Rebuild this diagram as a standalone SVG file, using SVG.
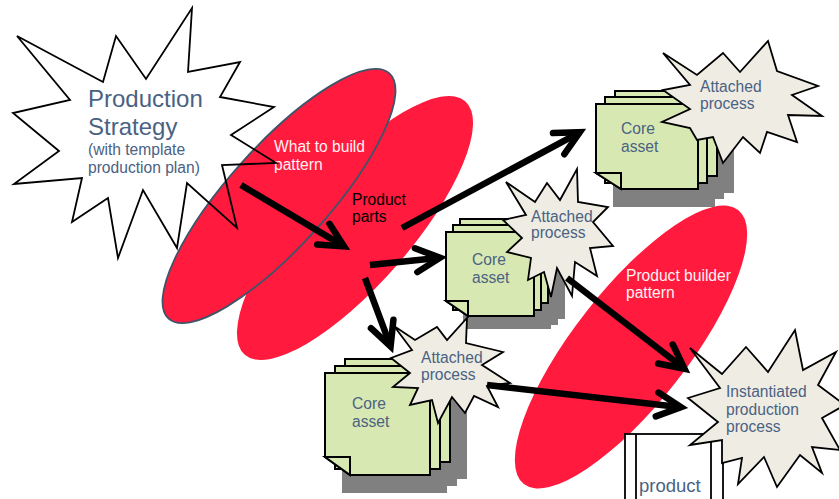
<svg xmlns="http://www.w3.org/2000/svg" width="839" height="499" viewBox="0 0 839 499">
  <style>
    .lbl { font-family: "Liberation Sans", Arial, sans-serif; font-size: 15.6px; fill: #4a6282; }
    .big { font-size: 24px; }
    .light { fill: #fff2f2; }
    .dark { fill: #000; }
    .pattern { fill: #ff1a3e; }
    .page { fill: #d8e8b3; stroke: #000; stroke-width: 2; stroke-linejoin: miter; }
    .shadow { fill: #808080; }
    .burst { fill: #efece4; stroke: #000; stroke-width: 1.8; stroke-linejoin: miter; }
    .arrow { fill: none; stroke: #000; stroke-width: 6.5; marker-end: url(#head); }
  </style>
  <defs>
    <marker id="head" markerUnits="userSpaceOnUse" orient="auto" markerWidth="50" markerHeight="50" viewBox="-30 -20 50 40" refX="0" refY="0" overflow="visible">
      <path d="M-24,-12 L0,0 L-24,12" fill="none" stroke="#000" stroke-width="6.5" stroke-linejoin="miter" stroke-linecap="round"/>
    </marker>
    <!-- one sheet with a folded bottom-left corner -->
    <symbol id="sheetL" overflow="visible">
      <path d="M0,0 H105 V102 H25 L0,86 Z"/>
    </symbol>
  </defs>

  <!-- pattern ellipses -->
  <g id="product-builder-pattern">
    <ellipse class="pattern" cx="631" cy="347" rx="174" ry="57" transform="rotate(-52 631 347)"/>
    <text class="lbl light" x="626" y="281">Product builder</text>
    <text class="lbl light" x="626" y="298">pattern</text>
  </g>
  <g id="product-parts">
    <ellipse class="pattern" cx="355" cy="228" rx="168" ry="56" transform="rotate(-49 355 228)"/>
  </g>
  <g id="what-to-build-pattern">
    <ellipse class="pattern" cx="279" cy="196" rx="165" ry="50" transform="rotate(-48 279 196)" stroke="#3f5468" stroke-width="1.8"/>
    <text class="lbl light" x="274" y="152">What to build</text>
    <text class="lbl light" x="274" y="170">pattern</text>
  </g>
  <g id="product-parts-label">
    <text class="lbl dark" x="352" y="205">Product</text>
    <text class="lbl dark" x="352" y="222">parts</text>
  </g>

  <!-- production strategy burst -->
  <g id="production-strategy">
    <polygon points="17,36 103,82 116,36 146,79 192,8 188,72 240,62 220,97 274,107 231,135 276,163 222,165 237,228 187,183 177,248 143,190 118,258 108,198 72,222 82,178 14,184 59,151 13,113 70,100" fill="none" stroke="#000" stroke-width="1.8" stroke-linejoin="miter"/>
    <text class="lbl big" x="88" y="107">Production</text>
    <text class="lbl big" x="88" y="135">Strategy</text>
    <text class="lbl" x="88" y="155">(with template</text>
    <text class="lbl" x="88" y="173">production plan)</text>
  </g>

  <!-- core asset stacks -->
  <g id="core-asset-1">
    <g class="shadow">
      <rect x="632" y="108" width="102" height="85"/>
      <rect x="622" y="114" width="102" height="85"/>
      <rect x="613" y="121" width="102" height="86"/>
    </g>
    <rect class="page" x="615" y="91" width="102" height="85"/>
    <rect class="page" x="605" y="97" width="102" height="86"/>
    <path class="page" d="M596,104 H698 V189 H621 L596,173 Z"/>
    <path class="page" d="M596,173 H621 V189 Z"/>
    <text class="lbl" x="621" y="134">Core</text>
    <text class="lbl" x="621" y="152">asset</text>
  </g>
  <g id="core-asset-2">
    <g class="shadow">
      <rect x="477" y="235" width="88" height="84"/>
      <rect x="470" y="241" width="88" height="84"/>
      <rect x="463" y="247" width="88" height="82"/>
    </g>
    <rect class="page" x="460" y="219" width="88" height="84"/>
    <rect class="page" x="453" y="225" width="88" height="85"/>
    <path class="page" d="M446,232 H534 V316 H468 L446,301 Z"/>
    <path class="page" d="M446,301 H468 V316 Z"/>
    <text class="lbl" x="472" y="265">Core</text>
    <text class="lbl" x="472" y="283">asset</text>
  </g>
  <g id="core-asset-3">
    <g class="shadow">
      <rect x="362" y="377" width="105" height="102"/>
      <rect x="352" y="384" width="105" height="102"/>
      <rect x="342" y="391" width="105" height="102"/>
    </g>
    <rect class="page" x="345" y="359" width="105" height="103"/>
    <rect class="page" x="335" y="366" width="105" height="103"/>
    <path class="page" d="M325,373 H430 V475 H350 L325,457 Z"/>
    <path class="page" d="M325,457 H350 V475 Z"/>
    <text class="lbl" x="352" y="409">Core</text>
    <text class="lbl" x="352" y="427">asset</text>
  </g>

  <!-- product -->
  <g id="product">
    <rect x="625" y="434" width="98" height="72" fill="#fff" stroke="#000" stroke-width="1.8"/>
    <line x1="636" y1="434" x2="636" y2="506" stroke="#000" stroke-width="1.8"/>
    <line x1="711" y1="434" x2="711" y2="506" stroke="#000" stroke-width="1.8"/>
    <text class="lbl" x="639" y="492" style="font-size:18.5px">product</text>
  </g>

  <!-- attached process bursts -->
  <g id="attached-process-1">
    <polygon class="burst" points="663,53 697,75 723,53 740,72 768,41 777,71 818,86 792,95 822,116 788,115 797,142 767,132 760,153 743,137 723,163 713,137 697,140 690,128 662,122 690,109 663,90 690,85"/>
    <text class="lbl" x="700" y="92">Attached</text>
    <text class="lbl" x="700" y="109">process</text>
  </g>
  <g id="attached-process-2">
    <polygon class="burst" points="506,182 535,202 547,183 560,200 577,169 578,202 608,207 593,222 613,246 590,248 597,276 575,262 572,296 557,268 551,297 544,272 528,280 531,258 507,252 522,238 503,220 526,215"/>
    <text class="lbl" x="531" y="222">Attached</text>
    <text class="lbl" x="531" y="238">process</text>
  </g>
  <g id="attached-process-3">
    <polygon class="burst" points="394,326 415,340 437,327 447,340 467,318 466,343 503,352 482,365 510,383 487,386 498,407 474,396 465,413 452,397 438,423 432,400 410,405 418,388 393,387 410,373 391,358 412,350"/>
    <text class="lbl" x="421" y="363">Attached</text>
    <text class="lbl" x="421" y="380">process</text>
  </g>
  <g id="instantiated-production-process">
    <polygon class="burst" points="690,348 722,374 746,347 768,372 795,330 803,370 836,352 818,385 845,405 822,418 840,450 812,447 822,473 800,455 777,487 764,457 738,484 742,458 722,463 722,440 690,445 718,422 688,398 720,388"/>
    <text class="lbl" x="726" y="397">Instantiated</text>
    <text class="lbl" x="726" y="415">production</text>
    <text class="lbl" x="726" y="432">process</text>
  </g>

  <!-- connectors -->
  <g id="connectors">
    <line class="arrow" x1="241" y1="185" x2="344" y2="246.4"/>
    <line class="arrow" x1="402" y1="228" x2="579.8" y2="132.3"/>
    <line class="arrow" x1="370" y1="265" x2="440" y2="257.7"/>
    <line class="arrow" x1="365" y1="278" x2="390.6" y2="346.4"/>
    <line class="arrow" x1="567" y1="278" x2="684.5" y2="368.7"/>
    <line class="arrow" x1="487" y1="385" x2="681" y2="407.2"/>
  </g>
</svg>
